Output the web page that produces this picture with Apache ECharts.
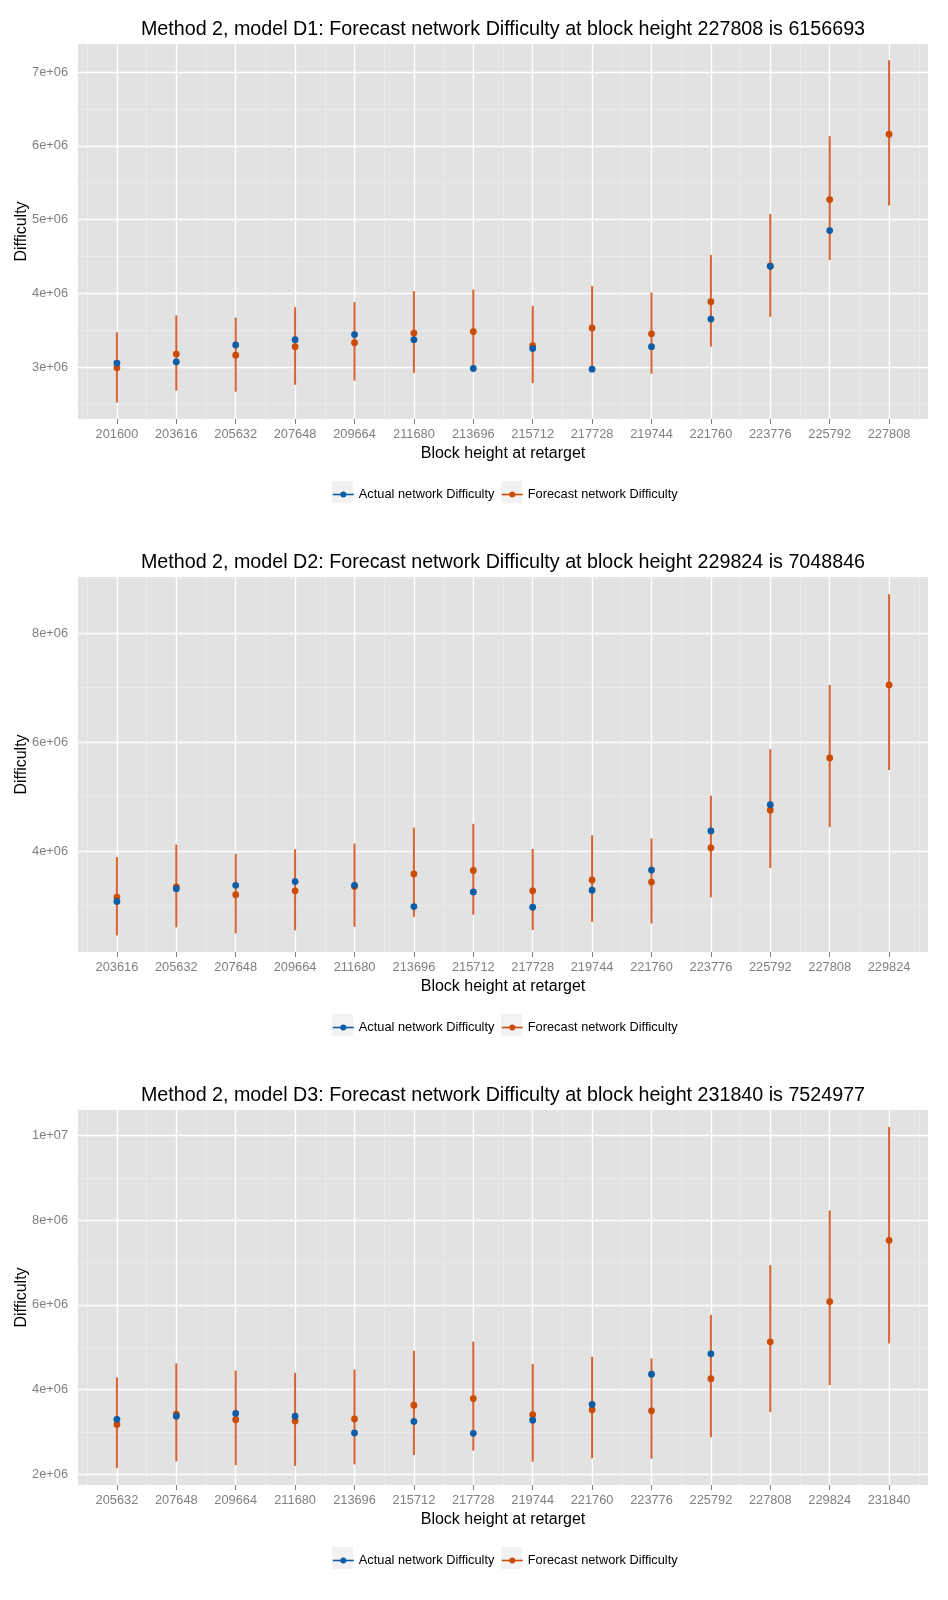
<!DOCTYPE html>
<html>
<head>
<meta charset="utf-8">
<script src="https://cdn.jsdelivr.net/npm/echarts@6/dist/echarts.min.js"></script>
<style>
  html, body { margin: 0; padding: 0; background: #fff; }
  .panel { width: 948px; height: 533px; }
</style>
</head>
<body>
<div id="d1" class="panel"></div>
<div id="d2" class="panel"></div>
<div id="d3" class="panel" style="height:534px"></div>
<script>
// values, in millions
const cats1 = ["201600", "203616", "205632", "207648", "209664", "211680", "213696",
  "215712", "217728", "219744", "221760", "223776", "225792", "227808"];
const actual1 = [3.054, 3.07, 3.3, 3.37, 3.44, 3.37, 2.98, 3.25, 2.97, 3.276, 3.65, 4.365, 4.85, null];
const forecast1 = [2.99, 3.176, 3.16, 3.276, 3.33, 3.46, 3.48, 3.29, 3.53, 3.45, 3.885, 4.37, 5.27, 6.156693];
const lower1 = [2.52, 2.68, 2.665, 2.76, 2.815, 2.92, 2.95, 2.78, 2.95, 2.91, 3.276, 3.68, 4.45, 5.19];
const upper1 = [3.47, 3.7, 3.67, 3.81, 3.88, 4.03, 4.05, 3.83, 4.1, 4.01, 4.52, 5.075, 6.13, 7.16];
const yTicks1 = [3, 4, 5, 6, 7];

const cats2 = ["203616", "205632", "207648", "209664", "211680", "213696", "215712",
  "217728", "219744", "221760", "223776", "225792", "227808", "229824"];
const actual2 = [3.076, 3.31, 3.37, 3.44, 3.37, 2.98, 3.25, 2.97, 3.28, 3.65, 4.37, 4.85, null, null];
const forecast2 = [3.156, 3.34, 3.2, 3.27, 3.35, 3.58, 3.645, 3.27, 3.47, 3.43, 4.06, 4.75, 5.71, 7.048846];
const lower2 = [2.45, 2.6, 2.49, 2.544, 2.61, 2.79, 2.83, 2.55, 2.7, 2.67, 3.15, 3.69, 4.44, 5.486];
const upper2 = [3.89, 4.12, 3.95, 4.03, 4.14, 4.43, 4.5, 4.04, 4.29, 4.23, 5.015, 5.87, 7.05, 8.715];
const yTicks2 = [4, 6, 8];

const cats3 = ["205632", "207648", "209664", "211680", "213696", "215712", "217728",
  "219744", "221760", "223776", "225792", "227808", "229824", "231840"];
const actual3 = [3.3, 3.375, 3.44, 3.375, 2.98, 3.25, 2.97, 3.28, 3.65, 4.365, 4.845, null, null, null];
const forecast3 = [3.18, 3.42, 3.29, 3.26, 3.31, 3.635, 3.79, 3.41, 3.525, 3.5, 4.26, 5.13, 6.08, 7.524977];
const lower3 = [2.15, 2.31, 2.22, 2.2, 2.235, 2.455, 2.56, 2.3, 2.38, 2.37, 2.88, 3.47, 4.11, 5.09];
const upper3 = [4.29, 4.62, 4.45, 4.4, 4.475, 4.92, 5.135, 4.61, 4.775, 4.735, 5.765, 6.94, 8.23, 10.2];
const yTicks3 = [2, 4, 6, 8, 10];

const FONT = "Liberation Sans, Arial, Helvetica, sans-serif";
const BLUE = "#0c5da5";
const ORANGE = "#cc4c05";
const BAR = "#d9622d";
const PANEL_BG = "#e2e2e2";
const MINOR = "#ececec";
const ACTUAL = "Actual network Difficulty";
const FORECAST = "Forecast network Difficulty";

function sciLabel(v) {
  // ggplot style: 7e+06, 1e+07
  return Number(v).toExponential(0).replace(/e([+-])(\d)$/, "e$10$2");
}

function pairs(values) {
  const out = [];
  values.forEach((v, i) => {
    if (v !== null) out.push([i, v * 1e6]);
  });
  return out;
}

function buildChart(targetId, p) {
  const target = document.getElementById(targetId);
  if (!target) return null;

  const n = p.cats.length;
  const ticks = p.yTicks.map((t) => t * 1e6);
  const step = ticks[1] - ticks[0];
  const yMin = p.yRange[0] * 1e6;
  const yMax = p.yRange[1] * 1e6;

  // panel grid lines, drawn as mark lines so they span the whole panel
  const minor = { color: MINOR, width: 0.8, type: "solid" };
  const major = { color: "#ffffff", width: 1.4, type: "solid" };
  const lines = [];
  for (let i = -1; i < n; i++) {
    lines.push({ xAxis: i + 0.5, lineStyle: minor });
  }
  for (let k = -1; k < ticks.length; k++) {
    const mid = ticks[0] + (k + 0.5) * step;
    if (mid > yMin && mid < yMax) {
      lines.push({ yAxis: mid, lineStyle: minor });
    }
  }
  for (let i = 0; i < n; i++) {
    lines.push({ xAxis: i, lineStyle: major });
  }
  ticks.forEach((t) => lines.push({ yAxis: t, lineStyle: major }));

  const bars = p.cats.map((c, i) => [i, p.lower[i] * 1e6, p.upper[i] * 1e6]);

  const pointSeries = (name, values, color, z) => ({
    name: name,
    type: "line",
    data: pairs(values),
    symbol: "circle",
    symbolSize: 6.8,
    showSymbol: true,
    lineStyle: { width: 0 },
    itemStyle: { color: color },
    emphasis: { disabled: true },
    z: z,
  });

  const legendBase = {
    top: 488,
    itemWidth: 21,
    itemHeight: 7.5,
    lineStyle: { width: 1.6, opacity: 1 },
    textStyle: { fontFamily: FONT, fontSize: 12.8, color: "#000" },
    selectedMode: false,
    padding: 0,
  };

  const option = {
    animation: false,
    title: {
      text: p.title,
      left: 503,
      textAlign: "center",
      top: 20,
      padding: 0,
      textStyle: { fontFamily: FONT, fontSize: 19.7, fontWeight: "normal", color: "#000" },
    },
    legend: [
      Object.assign({ left: 332, data: [ACTUAL] }, legendBase),
      Object.assign({ left: 501, data: [FORECAST] }, legendBase),
    ],
    graphic: [
      { type: "rect", left: 332, top: 481, shape: { width: 21, height: 22 }, style: { fill: "#f2f2f2" }, z: -1 },
      { type: "rect", left: 501, top: 481, shape: { width: 21, height: 22 }, style: { fill: "#f2f2f2" }, z: -1 },
    ],
    grid: {
      left: 78,
      right: 20,
      top: 44,
      height: 375,
      show: true,
      backgroundColor: PANEL_BG,
      borderWidth: 0,
      outerBoundsMode: "none",
    },
    xAxis: {
      type: "value",
      min: -0.655,
      max: n - 1 + 0.655,
      name: "Block height at retarget",
      nameLocation: "middle",
      nameGap: 24,
      nameTextStyle: { fontFamily: FONT, fontSize: 16, color: "#000" },
      axisLine: { show: false },
      splitLine: { show: false },
      axisTick: {
        show: true,
        length: 5,
        customValues: p.cats.map((c, i) => i),
        lineStyle: { color: "#7f7f7f" },
      },
      axisLabel: {
        customValues: p.cats.map((c, i) => i),
        formatter: (v) => p.cats[Math.round(v)] || "",
        margin: 9,
        fontFamily: FONT,
        fontSize: 12.8,
        color: "#7f7f7f",
      },
    },
    yAxis: {
      type: "value",
      min: yMin,
      max: yMax,
      name: "Difficulty",
      nameLocation: "middle",
      nameRotate: 90,
      nameGap: 48,
      nameMoveOverlap: false,
      nameTextStyle: { fontFamily: FONT, fontSize: 16, color: "#000" },
      axisLine: { show: false },
      splitLine: { show: false },
      axisTick: {
        show: true,
        length: 5,
        customValues: ticks,
        lineStyle: { color: "#7f7f7f" },
      },
      axisLabel: {
        customValues: ticks,
        formatter: sciLabel,
        margin: 10,
        fontFamily: FONT,
        fontSize: 12.8,
        color: "#7f7f7f",
      },
    },
    series: [
      {
        type: "scatter",
        data: [],
        silent: true,
        z: 1,
        markLine: {
          silent: true,
          z: 1,
          symbol: "none",
          label: { show: false },
          emphasis: { disabled: true },
          lineStyle: { type: "solid" },
          data: lines,
        },
      },
      {
        type: "custom",
        data: bars,
        encode: { x: 0, y: [1, 2] },
        z: 2,
        silent: true,
        renderItem: (params, api) => {
          const hi = api.coord([api.value(0), api.value(2)]);
          const lo = api.coord([api.value(0), api.value(1)]);
          return {
            type: "line",
            shape: { x1: hi[0], y1: hi[1], x2: lo[0], y2: lo[1] },
            style: { stroke: BAR, lineWidth: 2 },
          };
        },
      },
      pointSeries(FORECAST, p.forecast, ORANGE, 3),
      pointSeries(ACTUAL, p.actual, BLUE, 4),
    ],
  };

  const chart = echarts.init(target, null, { renderer: "canvas" });
  chart.setOption(option, true);
  return chart;
}

buildChart("d1", {
  title: "Method 2, model D1: Forecast network Difficulty at block height 227808 is 6156693",
  cats: cats1, actual: actual1, forecast: forecast1, lower: lower1, upper: upper1,
  yTicks: yTicks1, yRange: [2.295, 7.38],
});
buildChart("d2", {
  title: "Method 2, model D2: Forecast network Difficulty at block height 229824 is 7048846",
  cats: cats2, actual: actual2, forecast: forecast2, lower: lower2, upper: upper2,
  yTicks: yTicks2, yRange: [2.147, 9.03],
});
buildChart("d3", {
  title: "Method 2, model D3: Forecast network Difficulty at block height 231840 is 7524977",
  cats: cats3, actual: actual3, forecast: forecast3, lower: lower3, upper: upper3,
  yTicks: yTicks3, yRange: [1.75, 10.6],
});
</script>
</body>
</html>
